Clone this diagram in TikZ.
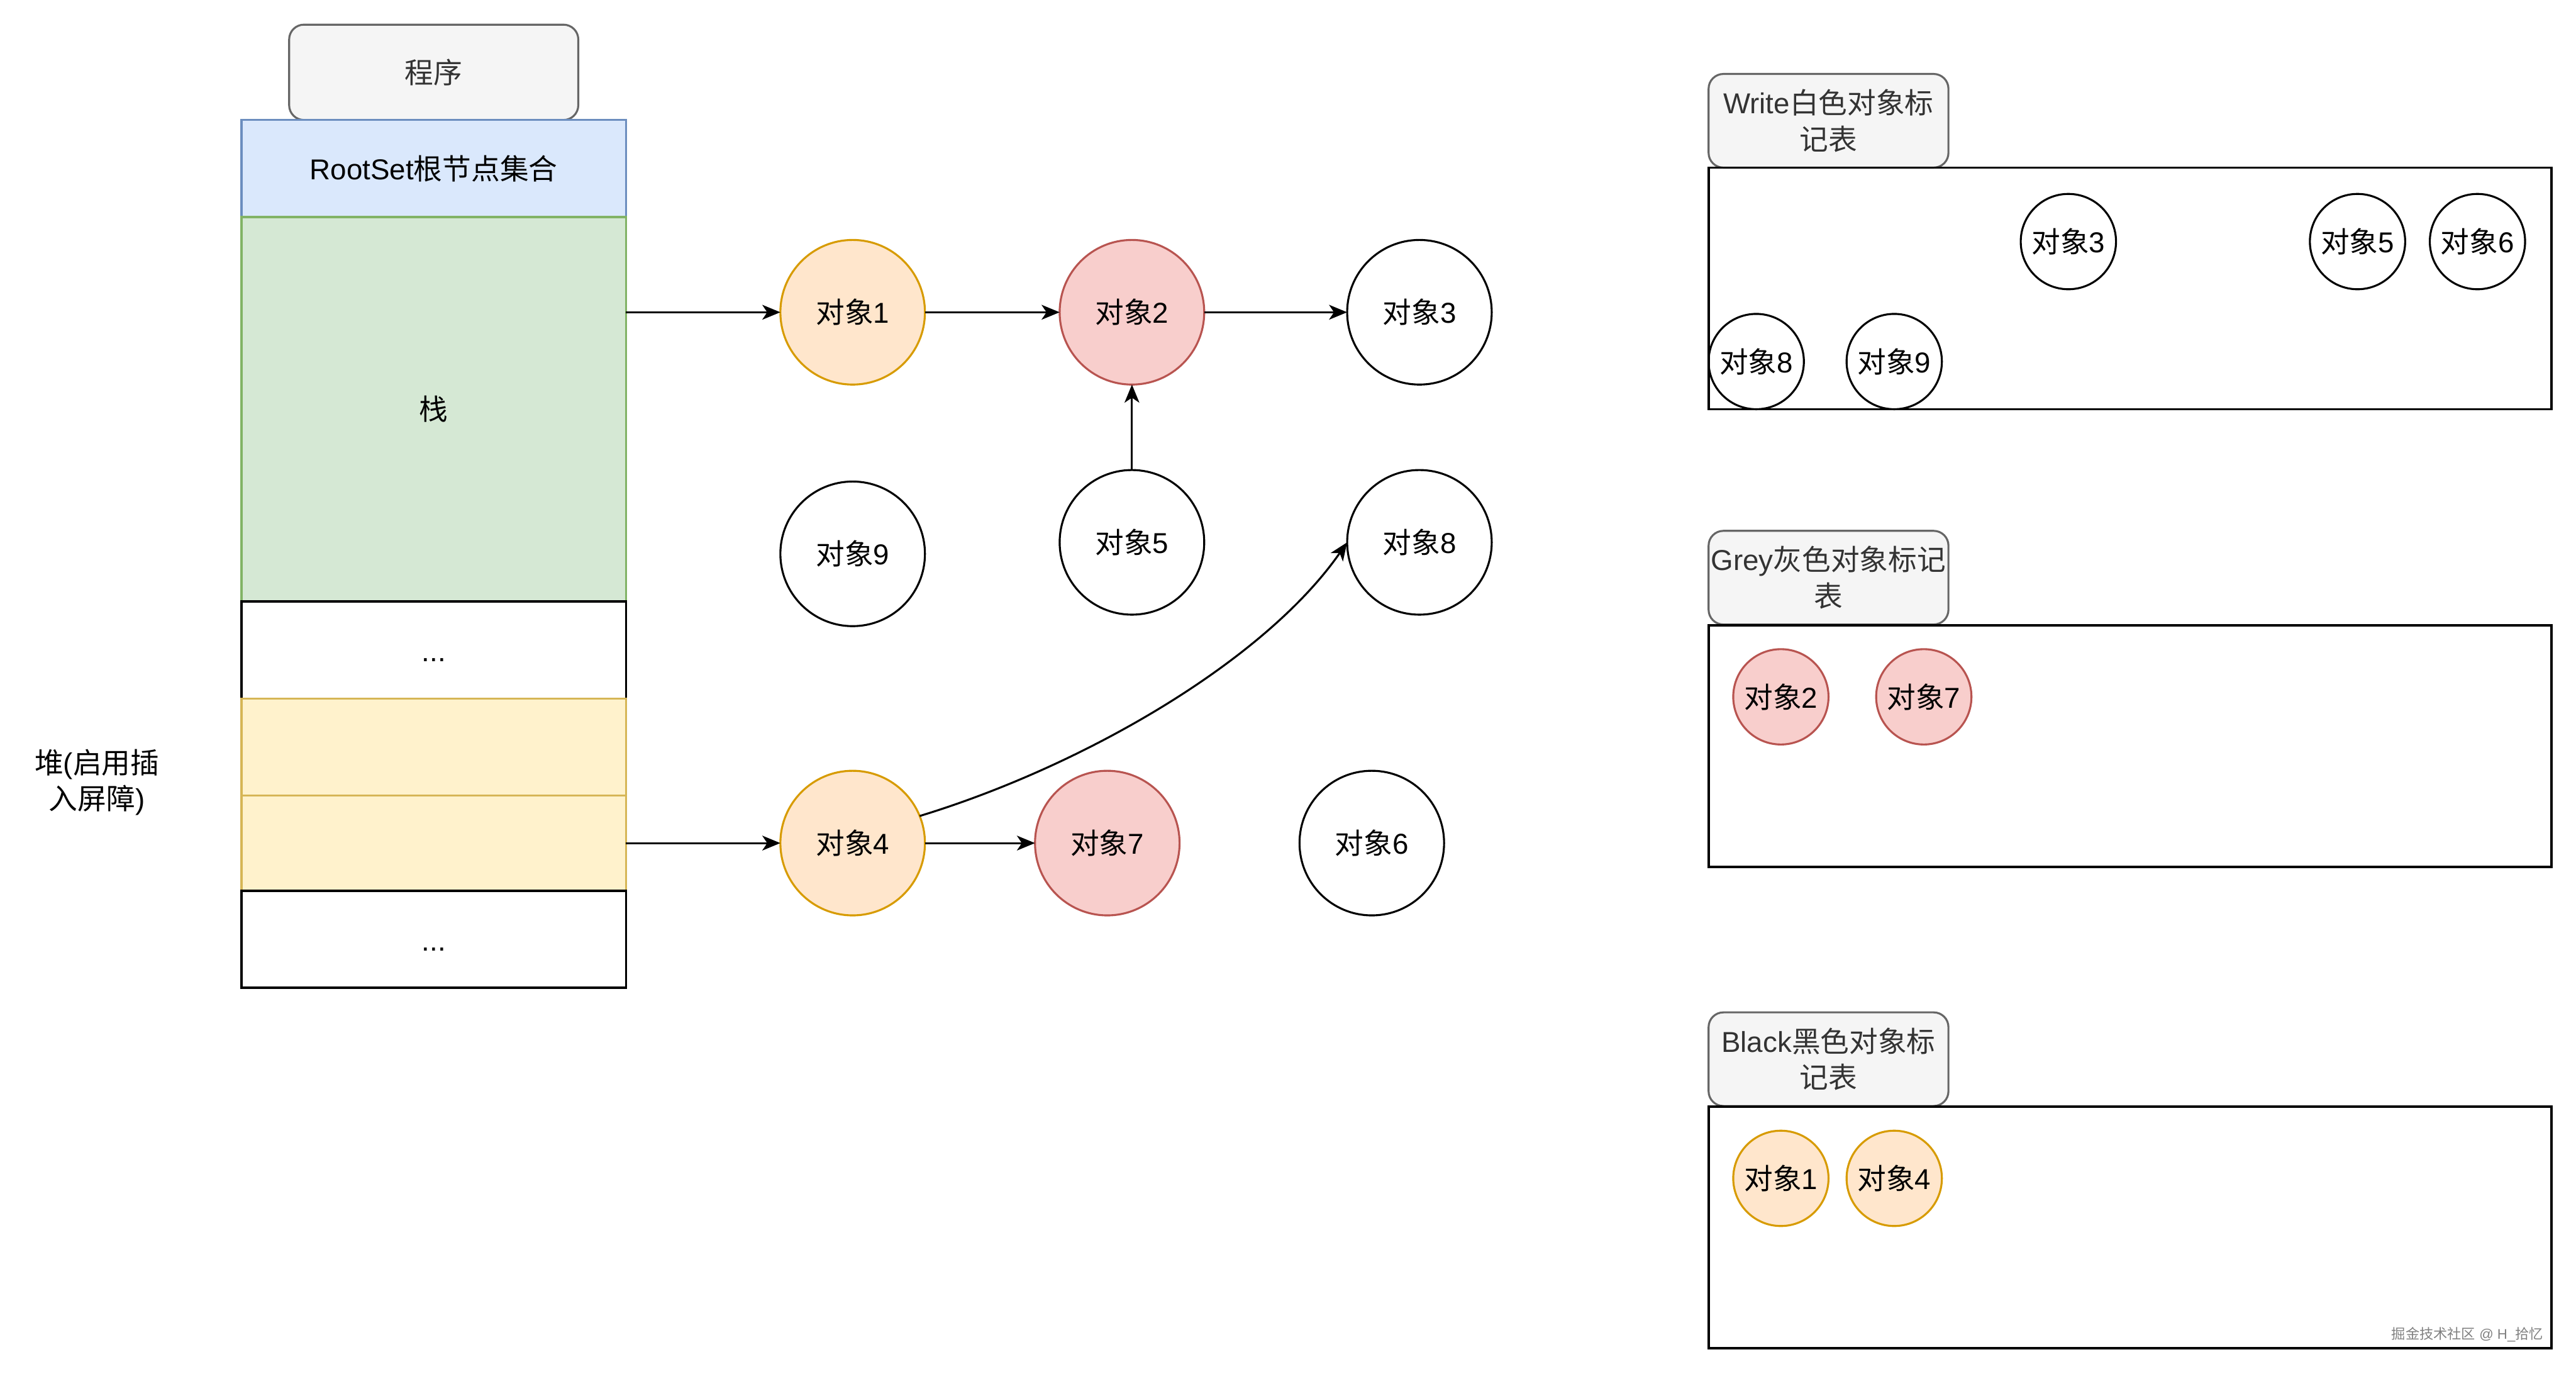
\documentclass[tikz,border=0pt]{standalone}
\usepackage{fontspec}
\setmainfont{Liberation Sans}
\newfontfamily\cjk{Noto Sans CJK SC}
\usetikzlibrary{arrows.meta}
\newcommand\zh[1]{{\cjk #1}}
\definecolor{tagfill}{HTML}{F5F5F5}
\definecolor{tagline}{HTML}{666666}
\definecolor{tagtext}{HTML}{333333}
\definecolor{rootfill}{HTML}{DAE8FC}
\definecolor{rootline}{HTML}{6C8EBF}
\definecolor{stackfill}{HTML}{D5E8D4}
\definecolor{stackline}{HTML}{82B366}
\definecolor{heapfill}{HTML}{FFF2CC}
\definecolor{heapline}{HTML}{D6B656}
\definecolor{orfill}{HTML}{FFE6CC}
\definecolor{orline}{HTML}{D79B00}
\definecolor{redfill}{HTML}{F8CECC}
\definecolor{redline}{HTML}{B85450}
\begin{document}
\begin{tikzpicture}[x=1pt,y=-1pt,
  base/.style={font=\fontsize{17.5}{22}\selectfont, inner sep=0pt, outer sep=0pt},
  bigobj/.style={base, circle, draw, line width=1.2pt, minimum size=88pt},
  smallobj/.style={base, circle, draw, line width=1.2pt, minimum size=58pt},
  orobj/.style={fill=orfill, draw=orline},
  redobj/.style={fill=redfill, draw=redline},
  layer/.style={base, rectangle, draw, line width=1.3pt, minimum width=234pt, fill=white},
  dotlayer/.style={layer, text height=14pt, text depth=0pt},
  tagbox/.style={base, rectangle, rounded corners=9pt, draw=tagline, fill=tagfill, text=tagtext, line width=1.2pt, minimum width=146pt, minimum height=57pt, align=center},
  marktable/.style={rectangle, draw, line width=1.5pt, minimum width=513pt, minimum height=147pt, inner sep=0pt, outer sep=0pt},
  link/.style={-{Stealth[length=11pt,width=9pt,inset=3pt]}, line width=1.2pt},
]
\useasboundingbox (0,0) rectangle (1568,836);

% left stack
\node[tagbox, minimum width=176pt, minimum height=58pt] (prog) at (264,44) {\zh{程序}};
\node[layer, fill=rootfill, draw=rootline, minimum height=59pt] (root) at (264,102.5) {RootSet\zh{根节点集合}};
\node[layer, fill=stackfill, draw=stackline, minimum height=234pt] (stack) at (264,249) {\zh{栈}};
\node[dotlayer, minimum height=59pt] (dots1) at (264,395.5) {...};
\node[layer, fill=heapfill, draw=heapline, minimum height=59pt] (heap1) at (264,454.5) {};
\node[layer, fill=heapfill, draw=heapline, minimum height=58pt] (heap2) at (264,513) {};
\node[dotlayer, minimum height=59pt] (dots2) at (264,571.5) {...};
\node[base, align=center] (heaplabel) at (59,476) {\zh{堆}(\zh{启用插}\\\zh{入屏障})};

% object graph
\node[bigobj, orobj] (o1) at (519,190) {\zh{对象}1};
\node[bigobj, redobj] (o2) at (689,190) {\zh{对象}2};
\node[bigobj] (o3) at (864,190) {\zh{对象}3};
\node[bigobj] (o9) at (519,337) {\zh{对象}9};
\node[bigobj] (o5) at (689,330) {\zh{对象}5};
\node[bigobj] (o8) at (864,330) {\zh{对象}8};
\node[bigobj, orobj] (o4) at (519,513) {\zh{对象}4};
\node[bigobj, redobj] (o7) at (674,513) {\zh{对象}7};
\node[bigobj] (o6) at (835,513) {\zh{对象}6};

\draw[link] (stack.east |- o1.west) -- (o1.west);
\draw[link] (o1) -- (o2);
\draw[link] (o2) -- (o3);
\draw[link] (o5) -- (o2);
\draw[link] (heap2.east) -- (o4.west);
\draw[link] (o4) -- (o7);
\draw[link] (o4.22) .. controls (660,466) and (770,402) .. (o8.west);

% white table
\node[tagbox] (wtag) at (1113,73.5) {Write\zh{白色对象标}\\\zh{记表}};
\node[marktable] (wtab) at (1296.5,175.5) {};
\node[smallobj] (w3) at (1259,147) {\zh{对象}3};
\node[smallobj] (w5) at (1435,147) {\zh{对象}5};
\node[smallobj] (w6) at (1508,147) {\zh{对象}6};
\node[smallobj] (w8) at (1069,220) {\zh{对象}8};
\node[smallobj] (w9) at (1153,220) {\zh{对象}9};

% grey table
\node[tagbox] (gtag) at (1113,351.5) {Grey\zh{灰色对象标记}\\\zh{表}};
\node[marktable] (gtab) at (1296.5,454) {};
\node[smallobj, redobj] (g2) at (1084,424) {\zh{对象}2};
\node[smallobj, redobj] (g7) at (1171,424) {\zh{对象}7};

% black table
\node[tagbox] (btag) at (1113,644.5) {Black\zh{黑色对象标}\\\zh{记表}};
\node[marktable] (btab) at (1296.5,747) {};
\node[smallobj, orobj] (b1) at (1084,717) {\zh{对象}1};
\node[smallobj, orobj] (b4) at (1153,717) {\zh{对象}4};

\node[base, anchor=east, font=\fontsize{8.5}{10}\selectfont, text=gray] (wm) at (1548,812) {\zh{掘金技术社区} @ H\_\zh{拾忆}};
\end{tikzpicture}
\end{document}
